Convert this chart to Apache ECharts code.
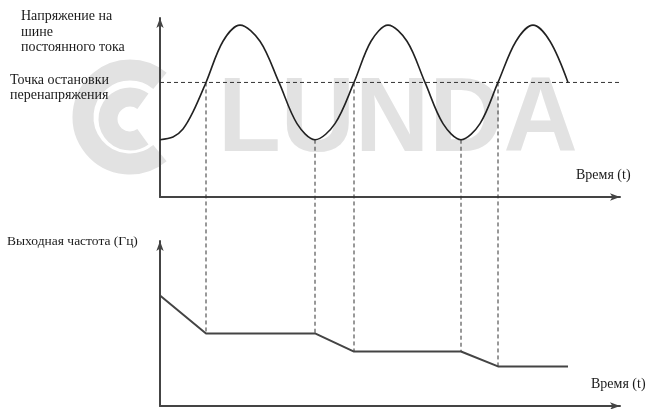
<!DOCTYPE html>
<html><head><meta charset="utf-8">
<script src="https://cdn.jsdelivr.net/npm/echarts@6/dist/echarts.min.js"></script>
<style>html,body{margin:0;padding:0;background:#fff}#c{width:646px;height:409px}</style>
</head><body><div id="c"></div>
<script>
// ---- data (time in arbitrary units, values in relative units 0..100) ----
const timeV   = [0, 1.3, 2.3, 3.3, 4.6, 6.3, 8.0, 10.0, 11.9, 13.7, 15.5, 17.5, 19.4, 21.1, 22.8, 24.7, 26.5, 28.3, 30.1, 32.0, 33.8, 35.6, 37.3, 39.0, 40.8];
const voltage = [32, 33.5, 38, 47.5, 64, 87, 96, 87, 64, 41, 32, 41, 64, 87, 96, 87, 64, 41, 32, 41, 64, 87, 96, 87, 64];
const threshold = 64;
const timeF = [0, 4.6, 15.5, 19.4, 30.1, 33.8, 40.8];
const freq  = [67, 44, 44, 33, 33, 24, 24];
const markTimes = [4.6, 15.5, 19.4, 30.1, 33.8];
const labelVoltage = ['Напряжение на', 'шине', 'постоянного тока'];
const labelThreshold = ['Точка остановки', 'перенапряжения'];
const labelFreq = 'Выходная частота (Гц)';
const labelTime = 'Время (t)';
const watermark = 'LUNDA';

const chart = echarts.init(document.getElementById('c'), null, {renderer: 'canvas'});
const axisCommon = () => ({
  type: 'value', min: 0,
  axisLine: {show: true, onZero: false, lineStyle: {color: '#444', width: 2},
    symbol: ['none', 'arrow'], symbolSize: [5.5, 10]},
  axisTick: {show: false}, axisLabel: {show: false}, splitLine: {show: false}
});
const xMax = 46;
chart.setOption({
  animation: false,
  backgroundColor: '#fff',
  grid: [
    {left: 160, top: 18, width: 460, height: 179},
    {left: 160, top: 241, width: 460, height: 165}
  ],
  xAxis: [
    Object.assign(axisCommon(), {gridIndex: 0, max: xMax}),
    Object.assign(axisCommon(), {gridIndex: 1, max: xMax})
  ],
  yAxis: [
    Object.assign(axisCommon(), {gridIndex: 0, max: 100}),
    Object.assign(axisCommon(), {gridIndex: 1, max: 100})
  ],
  series: [
    {type: 'line', xAxisIndex: 0, yAxisIndex: 0, smooth: 0.33, symbol: 'none', z: 3,
     lineStyle: {color: '#222', width: 1.6}, data: timeV.map((t, i) => [t, voltage[i]])},
    {type: 'line', xAxisIndex: 0, yAxisIndex: 0, symbol: 'none', z: 2,
     lineStyle: {color: '#333', width: 1, type: [4, 3]}, data: [[0, threshold], [xMax, threshold]]},
    {type: 'line', xAxisIndex: 1, yAxisIndex: 1, symbol: 'none', z: 3,
     lineStyle: {color: '#444', width: 2}, data: timeF.map((t, i) => [t, freq[i]])}
  ]
});

// vertical dashed connectors, positioned through the chart's own scales
const lookup = (ts, vs, t) => vs[ts.indexOf(t)];
const connectors = markTimes.map(t => {
  const p1 = chart.convertToPixel({gridIndex: 0}, [t, lookup(timeV, voltage, t)]);
  const p2 = chart.convertToPixel({gridIndex: 1}, [t, lookup(timeF, freq, t)]);
  return {type: 'line', z: 1, shape: {x1: p1[0], y1: p1[1], x2: p2[0], y2: p2[1]},
    style: {stroke: '#333', lineWidth: 1, lineDash: [4, 3]}};
});

const txt = (s, x, y, size) => ({type: 'text', z: 10, x: x, y: y,
  style: {text: s, x: 0, y: 0, fill: '#1a1a1a', font: (size || 14) + 'px "Liberation Serif"', align: 'left', verticalAlign: 'middle'}});
const wmColor = '#e2e2e2';
const graphics = [
  {type: 'arc', z: 0, shape: {cx: 130, cy: 117, r: 47, startAngle: Math.PI * 0.28, endAngle: Math.PI * 1.72, clockwise: true},
   style: {stroke: wmColor, lineWidth: 21, fill: null}},
  {type: 'arc', z: 0, shape: {cx: 130, cy: 119, r: 22, startAngle: Math.PI * 0.3, endAngle: Math.PI * 1.7, clockwise: true},
   style: {stroke: wmColor, lineWidth: 19, fill: null}},
  {type: 'text', z: 0, x: 218, y: 122, scaleX: 0.97,
   style: {text: watermark, x: 0, y: 0, fill: wmColor, font: 'bold 106px "Liberation Sans"', align: 'left', verticalAlign: 'middle'}},
  txt(labelVoltage[0], 21, 16), txt(labelVoltage[1], 21, 32), txt(labelVoltage[2], 21, 47),
  txt(labelThreshold[0], 10, 80), txt(labelThreshold[1], 10, 95),
  txt(labelFreq, 7, 241, 13.5),
  txt(labelTime, 576, 175), txt(labelTime, 591, 384)
].concat(connectors);
chart.setOption({graphic: graphics});
</script></body></html>
